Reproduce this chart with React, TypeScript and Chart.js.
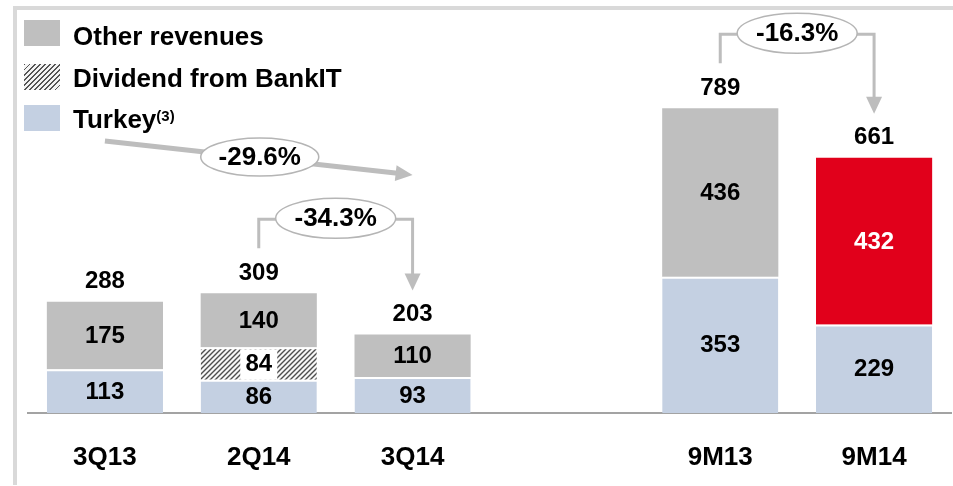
import React, { useEffect, useRef } from "react";
import { Chart, registerables } from "chart.js";

Chart.register(...registerables);

const FONT = "'Liberation Sans', Arial, sans-serif";

const categories = ["3Q13", "2Q14", "3Q14", "", "9M13", "9M14"];
const turkey = [113, 86, 93, null, 353, 229];
const dividend = [null, 84, null, null, null, null];
const otherRevenues = [175, 140, 110, null, 436, 432];
const totals = [288, 309, 203, null, 789, 661];
const changes = ["-29.6%", "-34.3%", "-16.3%"];

const GREY = "#bfbfbf";
const BLUE = "#c4d0e2";
const RED = "#e1001b";
const LINE = "#bdbdbd";

function makeHatch(ctx: CanvasRenderingContext2D) {
  const n = 5;
  const c = document.createElement("canvas");
  c.width = n;
  c.height = n;
  const g = c.getContext("2d")!;
  g.fillStyle = "#f7f7f7";
  g.fillRect(0, 0, n, n);
  g.strokeStyle = "#4d4d4d";
  g.lineWidth = 1.4;
  g.beginPath();
  g.moveTo(0, n);
  g.lineTo(n, 0);
  g.moveTo(-n / 2, n / 2);
  g.lineTo(n / 2, -n / 2);
  g.moveTo(n / 2, n * 1.5);
  g.lineTo(n * 1.5, n / 2);
  g.stroke();
  return ctx.createPattern(c, "repeat")!;
}

function head(ctx: CanvasRenderingContext2D, x: number, y: number, ang: number, len: number, half: number) {
  const c = Math.cos(ang), s = Math.sin(ang);
  ctx.beginPath();
  ctx.moveTo(x, y);
  ctx.lineTo(x - len * c + half * s, y - len * s - half * c);
  ctx.lineTo(x - len * c - half * s, y - len * s + half * c);
  ctx.closePath();
  ctx.fill();
}

function bubble(ctx: CanvasRenderingContext2D, cx: number, cy: number, rx: number, ry: number, text: string) {
  ctx.save();
  ctx.beginPath();
  ctx.ellipse(cx, cy, rx, ry, 0, 0, Math.PI * 2);
  ctx.fillStyle = "#fff";
  ctx.fill();
  ctx.lineWidth = 1.5;
  ctx.strokeStyle = "#b5b5b5";
  ctx.stroke();
  ctx.fillStyle = "#000";
  ctx.font = `bold 26px ${FONT}`;
  ctx.textAlign = "center";
  ctx.textBaseline = "middle";
  ctx.fillText(text, cx, cy + 1);
  ctx.restore();
}

const labelPlugin = {
  id: "barLabels",
  afterDatasetsDraw(chart: any) {
    const ctx: CanvasRenderingContext2D = chart.ctx;
    ctx.save();
    ctx.font = `bold 24px ${FONT}`;
    ctx.textAlign = "center";
    ctx.textBaseline = "middle";
    const tops: number[] = [];
    const xs: number[] = [];
    chart.data.datasets.forEach((ds: any, di: number) => {
      const meta = chart.getDatasetMeta(di);
      meta.data.forEach((el: any, i: number) => {
        const v = ds.data[i];
        if (v == null) return;
        const { x, y, base } = el.getProps(["x", "y", "base"], true);
        xs[i] = x;
        tops[i] = tops[i] === undefined ? y : Math.min(tops[i], y);
        if (di === 1) {
          ctx.fillStyle = "#fff";
          ctx.fillRect(x - 18.5, y + 2, 37, base - y - 2);
        }
        ctx.fillStyle = di === 2 && i === 5 ? "#fff" : "#000";
        ctx.fillText(String(v), x, (y + base) / 2 + 1);
      });
    });
    ctx.fillStyle = "#000";
    totals.forEach((t, i) => {
      if (t == null) return;
      ctx.fillText(String(t), xs[i], tops[i] - 20);
    });

    // annotations
    const lbl = (i: number) => tops[i] - 20;
    ctx.strokeStyle = LINE;
    ctx.fillStyle = LINE;

    // -29.6% long arrow
    const a0x = xs[0], a0y = 141, a1x = xs[2], a1y = 175;
    const ang = Math.atan2(a1y - a0y, a1x - a0x);
    ctx.lineWidth = 5;
    ctx.beginPath();
    ctx.moveTo(a0x, a0y);
    ctx.lineTo(a1x - 15 * Math.cos(ang), a1y - 15 * Math.sin(ang));
    ctx.stroke();
    head(ctx, a1x, a1y, ang, 17, 8);
    bubble(ctx, (a0x + a1x) / 2 + 1, (a0y + a1y) / 2 - 1, 59, 19, changes[0]);

    // bracket arrows
    const bracket = (from: number, to: number, text: string) => {
      const sx = xs[from], ex = xs[to];
      const sy = lbl(from) - 25;
      const ly = sy - 29;
      const ty = lbl(to) - 24;
      ctx.strokeStyle = LINE;
      ctx.fillStyle = LINE;
      ctx.lineWidth = 3;
      ctx.beginPath();
      ctx.moveTo(sx, sy);
      ctx.lineTo(sx, ly);
      ctx.lineTo(ex, ly);
      ctx.lineTo(ex, ty - 15);
      ctx.stroke();
      head(ctx, ex, ty, Math.PI / 2, 17, 8);
      bubble(ctx, (sx + ex) / 2, ly - 1, 60, 20, text);
    };
    bracket(1, 2, changes[1]);
    bracket(4, 5, changes[2]);
    ctx.restore();
  },
};

export default function App() {
  const ref = useRef<HTMLCanvasElement>(null);
  useEffect(() => {
    document.body.style.margin = "0";
    const canvas = ref.current!;
    const ctx = canvas.getContext("2d")!;
    const hatch = makeHatch(ctx);
    const chart = new Chart(canvas, {
      type: "bar",
      data: {
        labels: categories,
        datasets: [
          {
            label: "Turkey",
            data: turkey,
            backgroundColor: BLUE,
            borderColor: "#fff",
            borderWidth: { top: 2, left: 0, right: 0, bottom: 0 },
          },
          {
            label: "Dividend from BankIT",
            data: dividend,
            backgroundColor: hatch,
            borderColor: "#fff",
            borderWidth: { top: 2, left: 0, right: 0, bottom: 0 },
          },
          {
            label: "Other revenues",
            data: otherRevenues,
            backgroundColor: categories.map((_, i) => (i === 5 ? RED : GREY)),
            borderWidth: 0,
          },
        ] as any,
      },
      options: {
        animation: false,
        responsive: false,
        maintainAspectRatio: false,
        devicePixelRatio: 1,
        layout: { padding: { top: 26.8, left: 28, right: 2, bottom: 0 } },
        datasets: { bar: { barPercentage: 0.755, categoryPercentage: 1 } },
        plugins: { legend: { display: false }, tooltip: { enabled: false } },
        scales: {
          y: { display: false, stacked: true, min: 0, max: 1000 },
          x: {
            stacked: true,
            grid: { display: false, drawTicks: false },
            border: { display: true, color: "#a3a3a3", width: 2 },
            ticks: {
              color: "#000",
              padding: 29,
              font: { family: FONT, size: 26, weight: "bold" },
            },
            afterFit: (s: any) => {
              s.height = 73;
            },
          } as any,
        },
      },
      plugins: [labelPlugin],
    });
    return () => chart.destroy();
  }, []);

  const sw = { position: "absolute" as const, left: 24, width: 36, height: 26 };
  const txt = {
    position: "absolute" as const,
    left: 73,
    fontFamily: FONT,
    fontWeight: "bold" as const,
    fontSize: 26,
    lineHeight: "30px",
    color: "#000",
    whiteSpace: "nowrap" as const,
  };
  return (
    <div style={{ position: "fixed", left: 0, top: 0, width: 953, height: 486, background: "#fff", overflow: "hidden" }}>
      <canvas ref={ref} width={953} height={486} style={{ position: "absolute", left: 0, top: 0, width: 953, height: 486 }} />
      <div style={{ position: "absolute", left: 13, top: 6, width: 940, height: 4, background: "#d9d9d9" }} />
      <div style={{ position: "absolute", left: 13, top: 6, width: 4, height: 479, background: "#d9d9d9" }} />
      <div style={{ ...sw, top: 20, background: GREY }} />
      <div style={{ ...txt, top: 21 }}>Other revenues</div>
      <div
        style={{
          ...sw,
          top: 64,
          background: "repeating-linear-gradient(135deg, #555 0px, #555 1.3px, #f4f4f4 1.3px, #f4f4f4 3.6px)",
        }}
      />
      <div style={{ ...txt, top: 63 }}>Dividend from BankIT</div>
      <div style={{ ...sw, top: 105, background: BLUE }} />
      <div style={{ ...txt, top: 104 }}>
        Turkey<sup style={{ fontSize: 15, verticalAlign: "top", position: "relative", top: -3 }}>(3)</sup>
      </div>
    </div>
  );
}
